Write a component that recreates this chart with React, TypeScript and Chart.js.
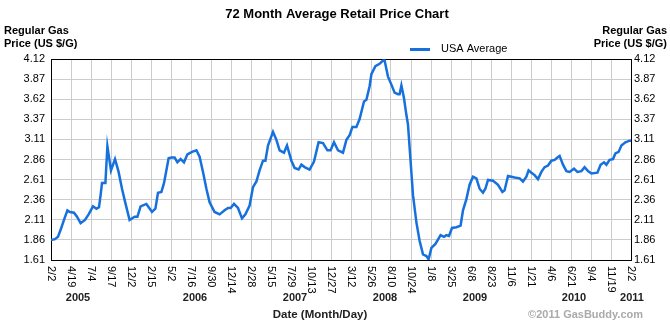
import React, { useEffect, useRef } from "react";
import { Chart, registerables } from "chart.js";

Chart.register(...registerables);

const chartTitle = "72 Month Average Retail Price Chart";
const yAxisTitleLines = ["Regular Gas", "Price (US $/G)"];
const xAxisTitle = "Date (Month/Day)";
const creditText = "\u00A92011 GasBuddy.com";
const seriesName = "USA Average";

const xTickLabels = [
  "2/2", "4/19", "7/4", "9/17", "12/2", "2/15", "5/2", "7/16", "9/30", "12/14",
  "2/28", "5/15", "7/29", "10/13", "12/27", "3/12", "5/26", "8/10", "10/24", "1/8",
  "3/25", "6/8", "8/23", "11/6", "1/21", "4/6", "6/21", "9/4", "11/19", "2/2",
];
const yearLabels = ["2005", "2006", "2007", "2008", "2009", "2010", "2011"];
const yearPositions = [1.35, 7.2, 12.2, 16.7, 21.2, 26.15, 29.05];

const yTickLabels = ["1.61", "1.86", "2.11", "2.36", "2.61", "2.86", "3.11", "3.37", "3.62", "3.87", "4.12"];
const yMin = 1.61;
const yMax = 4.12;

// sample positions, in units of x tick intervals from the first tick (2/2/2005)
const samplePositions = [
  0, 0.2, 0.35, 0.5, 0.65, 0.82, 0.95, 1.15, 1.3, 1.48, 1.7, 1.88, 2.1, 2.27, 2.4, 2.48, 2.55, 2.72, 2.82, 3.0,
  3.2, 3.38, 3.55, 3.72, 3.93, 4.18, 4.32, 4.48, 4.77, 5.05, 5.22, 5.35, 5.52, 5.65, 5.77, 5.88, 6.02, 6.18, 6.32, 6.48,
  6.65, 6.82, 7.05, 7.27, 7.43, 7.6, 7.77, 7.93, 8.18, 8.43, 8.68, 8.85, 8.98, 9.15, 9.35, 9.55, 9.72, 9.93, 10.1, 10.27,
  10.43, 10.6, 10.72, 10.85, 11.1, 11.27, 11.43, 11.65, 11.8, 12.02, 12.18, 12.38, 12.52, 12.68, 12.93, 13.15, 13.38, 13.6, 13.82, 13.98,
  14.15, 14.35, 14.6, 14.77, 14.93, 15.07, 15.27, 15.43, 15.65, 15.77, 15.93, 16.02, 16.22, 16.43, 16.6, 16.68, 16.85, 17.02, 17.18, 17.35,
  17.43, 17.52, 17.65, 17.77, 17.85, 17.98, 18.1, 18.27, 18.43, 18.6, 18.77, 18.88, 19.02, 19.22, 19.48, 19.65, 19.77, 19.9, 20.05, 20.27,
  20.48, 20.6, 20.77, 20.93, 21.1, 21.27, 21.43, 21.6, 21.72, 21.85, 22.1, 22.35, 22.57, 22.68, 22.85, 23.02, 23.18, 23.43, 23.6, 23.77,
  23.88, 24.02, 24.18, 24.35, 24.52, 24.68, 24.85, 25.02, 25.18, 25.32, 25.43, 25.6, 25.77, 25.93, 26.15, 26.32, 26.52, 26.68, 26.85, 27.02,
  27.32, 27.48, 27.65, 27.77, 27.93, 28.1, 28.22, 28.38, 28.52, 28.72, 28.93, 29.0,
];
const usaAverage = [
  1.86, 1.87, 1.90, 2.00, 2.11, 2.23, 2.21, 2.20, 2.15, 2.07, 2.11, 2.18, 2.28, 2.25, 2.27, 2.42, 2.57, 2.57, 3.03, 2.73,
  2.87, 2.71, 2.50, 2.32, 2.11, 2.15, 2.15, 2.28, 2.31, 2.21, 2.25, 2.45, 2.46, 2.57, 2.73, 2.88, 2.89, 2.89, 2.83, 2.87,
  2.83, 2.93, 2.96, 2.98, 2.90, 2.71, 2.50, 2.33, 2.21, 2.18, 2.23, 2.26, 2.26, 2.31, 2.26, 2.13, 2.18, 2.29, 2.52, 2.59,
  2.73, 2.85, 2.85, 3.04, 3.21, 3.11, 2.98, 2.95, 3.04, 2.85, 2.76, 2.74, 2.80, 2.77, 2.74, 2.84, 3.08, 3.07, 2.98, 2.98,
  3.08, 2.98, 2.95, 3.11, 3.17, 3.27, 3.27, 3.37, 3.59, 3.61, 3.78, 3.93, 4.03, 4.06, 4.10, 4.10, 3.90, 3.80, 3.70, 3.68,
  3.68, 3.79, 3.63, 3.42, 3.30, 2.84, 2.42, 2.08, 1.85, 1.68, 1.66, 1.62, 1.76, 1.81, 1.92, 1.90, 1.92, 1.91, 2.01, 2.02,
  2.04, 2.23, 2.37, 2.55, 2.65, 2.63, 2.50, 2.45, 2.50, 2.61, 2.60, 2.55, 2.46, 2.48, 2.66, 2.65, 2.64, 2.63, 2.59, 2.65,
  2.73, 2.70, 2.67, 2.62, 2.71, 2.77, 2.79, 2.85, 2.86, 2.89, 2.91, 2.80, 2.72, 2.71, 2.75, 2.71, 2.72, 2.77, 2.72, 2.69,
  2.70, 2.80, 2.83, 2.80, 2.86, 2.87, 2.94, 2.96, 3.04, 3.08, 3.10, 3.10,
];

const FONT = '"Liberation Sans", Arial, Helvetica, sans-serif';
const LINE_COLOR = "#1670dd";

const decorPlugin = {
  id: "decor",
  beforeDatasetsDraw(chart: any) {
    const { ctx, chartArea } = chart;
    ctx.save();
    ctx.strokeStyle = "#000";
    ctx.lineWidth = 1;
    ctx.strokeRect(
      Math.round(chartArea.left) + 0.5,
      Math.round(chartArea.top) + 0.5,
      Math.round(chartArea.right) - Math.round(chartArea.left),
      Math.round(chartArea.bottom) - Math.round(chartArea.top)
    );
    ctx.restore();
  },
  afterDraw(chart: any) {
    const { ctx, chartArea, scales } = chart;
    const xs = scales.x;
    ctx.save();
    ctx.fillStyle = "#000";
    // title
    ctx.font = `bold 13px ${FONT}`;
    ctx.textAlign = "center";
    ctx.textBaseline = "middle";
    ctx.fillText(chartTitle, 337, 14);
    // axis titles
    ctx.font = `bold 11px ${FONT}`;
    ctx.textAlign = "left";
    ctx.fillText(yAxisTitleLines[0], 4, 31);
    ctx.fillText(yAxisTitleLines[1], 4, 44);
    ctx.textAlign = "right";
    ctx.fillText(yAxisTitleLines[0], 667, 31);
    ctx.fillText(yAxisTitleLines[1], 667, 44);
    // legend
    const label = chart.data.datasets[0].label;
    ctx.strokeStyle = LINE_COLOR;
    ctx.lineWidth = 3;
    ctx.beginPath();
    ctx.moveTo(410, 49.5);
    ctx.lineTo(430, 49.5);
    ctx.stroke();
    ctx.font = `11px ${FONT}`;
    ctx.textAlign = "left";
    ctx.fillText(label, 441, 49);
    // x tick labels (rotated clockwise)
    ctx.font = `11px ${FONT}`;
    xTickLabels.forEach((lab, i) => {
      const px = xs.getPixelForValue(i);
      ctx.save();
      ctx.translate(px, chartArea.bottom + 6);
      ctx.rotate(Math.PI / 2);
      ctx.textAlign = "left";
      ctx.textBaseline = "middle";
      ctx.fillText(lab, 0, 0);
      ctx.restore();
    });
    // year labels
    ctx.font = `bold 11px ${FONT}`;
    ctx.textAlign = "center";
    ctx.textBaseline = "middle";
    ctx.fillStyle = "#222";
    yearLabels.forEach((lab, i) => {
      ctx.fillText(lab, xs.getPixelForValue(yearPositions[i]), 298);
    });
    // x axis title
    ctx.font = `bold 11.5px ${FONT}`;
    ctx.fillText(xAxisTitle, 320, 315);
    // credit
    ctx.font = `bold 11px ${FONT}`;
    ctx.fillStyle = "#aaaaaa";
    ctx.textAlign = "right";
    ctx.fillText(creditText, 643, 315);
    ctx.restore();
  },
};

function setYTicks(scale: any) {
  const n = yTickLabels.length;
  scale.ticks = yTickLabels.map((_, i) => ({ value: yMin + (i * (yMax - yMin)) / (n - 1) }));
}

export default function App() {
  const canvasRef = useRef<HTMLCanvasElement | null>(null);

  useEffect(() => {
    const canvas = canvasRef.current;
    if (!canvas) return;
    const points = samplePositions.map((x, i) => ({ x, y: usaAverage[i] }));
    const chart = new Chart(canvas, {
      type: "line",
      data: {
        datasets: [
          {
            label: seriesName,
            data: points,
            borderColor: LINE_COLOR,
            borderWidth: 2.5,
            pointRadius: 0,
            tension: 0,
            fill: false,
            yAxisID: "y",
          },
        ],
      },
      options: {
        animation: false,
        responsive: false,
        devicePixelRatio: 1,
        layout: { padding: { left: 0, right: 0, top: 59, bottom: 0 } },
        plugins: { legend: { display: false }, title: { display: false }, tooltip: { enabled: false } },
        scales: {
          x: {
            type: "linear",
            min: 0,
            max: xTickLabels.length - 1,
            afterBuildTicks: (scale: any) => {
              scale.ticks = xTickLabels.map((_, i) => ({ value: i }));
            },
            afterFit: (scale: any) => {
              scale.height = 65;
            },
            ticks: { display: false },
            grid: { color: "#cccccc", lineWidth: 1, drawTicks: false },
            border: { display: false },
          },
          y: {
            type: "linear",
            position: "left",
            min: yMin,
            max: yMax,
            afterBuildTicks: setYTicks,
            afterFit: (scale: any) => {
              scale.width = 51;
            },
            ticks: {
              padding: 6,
              color: "#000",
              font: { family: FONT, size: 11 },
              callback: (_v: any, i: number) => yTickLabels[i],
            },
            grid: { color: "#cccccc", lineWidth: 1, drawTicks: false },
            border: { display: false },
          },
          y2: {
            type: "linear",
            position: "right",
            min: yMin,
            max: yMax,
            afterBuildTicks: setYTicks,
            afterFit: (scale: any) => {
              scale.width = 39;
            },
            ticks: {
              padding: 3,
              color: "#000",
              font: { family: FONT, size: 11 },
              callback: (_v: any, i: number) => yTickLabels[i],
            },
            grid: { display: false, drawTicks: false },
            border: { display: false },
          },
        },
      },
      plugins: [decorPlugin],
    } as any);
    return () => chart.destroy();
  }, []);

  return (
    <div style={{ position: "fixed", left: 0, top: 0, width: 670, height: 325, background: "#fff" }}>
      <canvas ref={canvasRef} width={670} height={325} style={{ width: 670, height: 325, display: "block" }} />
    </div>
  );
}
